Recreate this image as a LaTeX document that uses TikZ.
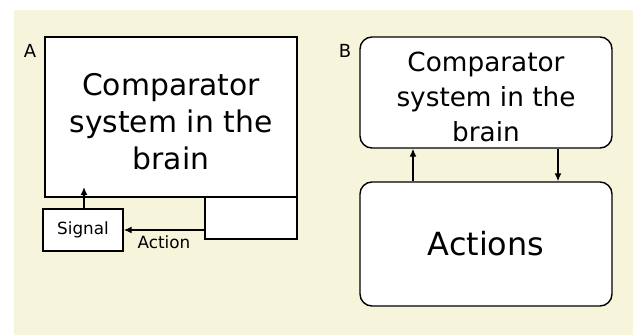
\documentclass[tikz,border=0pt]{standalone}
\usepackage{fontspec}
\setmainfont{DejaVu Sans}
\usetikzlibrary{positioning,arrows.meta}
\definecolor{cream}{HTML}{F7F4DC}
\tikzset{every path/.style={black,line width=1.4pt}, every node/.style={inner sep=0pt, align=center}}
\tikzset{sqbox/.style={draw, fill=white}, rndbox/.style={draw, fill=white, rounded corners=12pt}, link/.style={-{Latex[length=8pt,width=7pt]}}}

\begin{document}
\begin{tikzpicture}[x=1pt,y=-1pt]
   \useasboundingbox (0,0) rectangle (633,335);
   \fill[cream, draw=none] (14,10) rectangle (633,335);
   % panel A
   \node[sqbox, minimum width=252pt, minimum height=160pt, font=\fontsize{29.8}{37}\selectfont] (compA) at (171,117)
     {\rule{0pt}{31pt}Comparator\\system in the\\brain};
   \node[sqbox, minimum width=92pt, minimum height=42pt] (actbox) at (251,218) {};
   \node[sqbox, minimum width=80pt, minimum height=42pt, font=\fontsize{16.8}{19}\selectfont] (sig) at (83,230) {Signal};
   \node[font=\fontsize{18}{20}\selectfont] (labA) at (30,51) {A};
   \coordinate (sigup) at (84,187);
   \draw[link] (actbox.west |- sig) -- node[below=5pt, font=\fontsize{16.8}{19}\selectfont] {Action} (sig.east);
   \draw[link] (sig.north -| sigup) -- (sigup);
   % panel B
   \node[rndbox, minimum width=252pt, minimum height=111pt, font=\fontsize{26.3}{35}\selectfont] (compB) at (486,92.5)
     {\rule{0pt}{28pt}Comparator\\system in the\\brain};
   \node[rndbox, minimum width=252pt, minimum height=124pt, font=\fontsize{31.9}{36}\selectfont] (acts) at (486,244) {Actions};
   \node[font=\fontsize{18}{20}\selectfont] (labB) at (345,51) {B};
   \draw[link] (acts.north -| 413,0) -- (compB.south -| 413,0);
   \draw[link] (compB.south -| 558,0) -- (acts.north -| 558,0);
  \end{tikzpicture}
\end{document}
